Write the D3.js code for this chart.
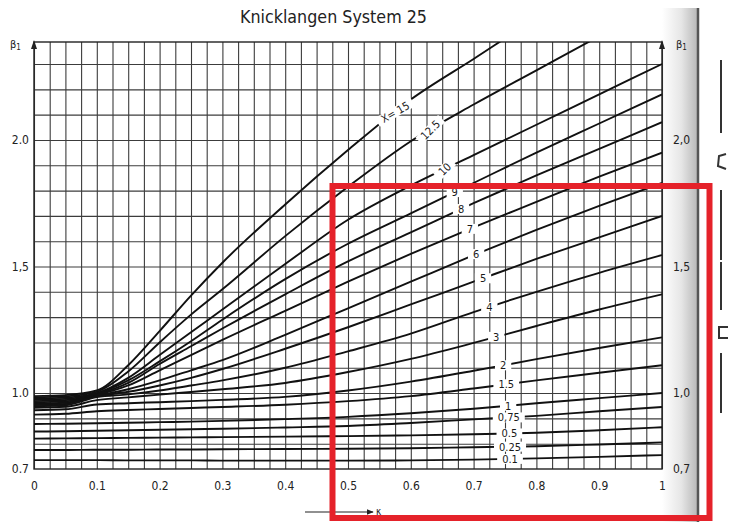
<!DOCTYPE html>
<html>
<head>
<meta charset="utf-8">
<script src="https://cdn.jsdelivr.net/npm/d3@7"></script>
<style>
body{margin:0;background:#fff;}
svg{display:block;font-family:"DejaVu Sans Condensed","DejaVu Sans",sans-serif;font-stretch:condensed;}
</style>
</head>
<body>
<svg id="chart" width="731" height="522"></svg>
<script>
const kappa=[0,0.05,0.1,0.15,0.2,0.25,0.3,0.4,0.5,0.6,0.7,0.8,0.9,1.0];

const curveNames=["15","12.5","10","9","8","7","6","5","4","3","2","1.5","1","0.75","0.5","0.25","0.1"];
const curveLabels=["X= 15","12.5","10","9","8","7","6","5","4","3","2","1.5","1","0,75","0.5","0.25","0.1"];
const labelAt=[0.575,0.631,0.654,0.67,0.68,0.694,0.704,0.715,0.725,0.736,0.747,0.752,0.755,0.756,0.757,0.758,0.758];
const labelTilt=[-30,-45,-45,0,0,0,0,0,0,0,0,0,0,0,0,0,0];

const beta15 =[0.988,0.992,1.010,1.110,1.245,1.385,1.515,1.745,1.960,2.160,2.320,2.480,2.620,2.760];
const beta125=[0.983,0.987,1.005,1.085,1.200,1.310,1.410,1.620,1.815,1.995,2.140,2.275,2.410,2.540];
const beta10 =[0.978,0.982,1.000,1.060,1.150,1.240,1.330,1.510,1.685,1.820,1.940,2.060,2.180,2.300];
const beta9  =[0.973,0.977,0.998,1.050,1.125,1.205,1.290,1.450,1.590,1.710,1.830,1.950,2.065,2.180];
const beta8  =[0.968,0.972,0.995,1.040,1.115,1.185,1.255,1.390,1.520,1.635,1.750,1.860,1.965,2.070];
const beta7  =[0.963,0.967,0.992,1.030,1.090,1.150,1.210,1.325,1.440,1.550,1.655,1.755,1.855,1.950];
const beta6  =[0.958,0.962,0.990,1.015,1.050,1.090,1.130,1.230,1.335,1.440,1.545,1.645,1.740,1.830];
const beta5  =[0.953,0.957,0.988,1.005,1.030,1.060,1.095,1.175,1.260,1.350,1.440,1.530,1.615,1.700];
const beta4  =[0.948,0.952,0.984,0.995,1.010,1.030,1.050,1.100,1.165,1.235,1.320,1.400,1.475,1.545];
const beta3  =[0.942,0.946,0.972,0.983,0.994,1.004,1.015,1.040,1.083,1.135,1.198,1.265,1.330,1.390];
const beta2  =[0.932,0.936,0.955,0.960,0.964,0.968,0.973,0.985,1.010,1.045,1.088,1.134,1.178,1.220];
const beta15b=[0.915,0.918,0.928,0.933,0.937,0.941,0.945,0.954,0.968,0.988,1.018,1.050,1.080,1.110];
const beta1  =[0.878,0.879,0.881,0.883,0.885,0.887,0.890,0.897,0.906,0.920,0.938,0.960,0.980,1.000];
const beta075=[0.848,0.849,0.851,0.853,0.855,0.857,0.859,0.864,0.870,0.882,0.896,0.910,0.928,0.945];
const beta05 =[0.820,0.821,0.822,0.823,0.824,0.825,0.826,0.828,0.830,0.833,0.837,0.843,0.853,0.865];
const beta025=[0.775,0.775,0.776,0.776,0.777,0.777,0.778,0.779,0.780,0.782,0.786,0.790,0.797,0.805];
const beta01 =[0.735,0.735,0.735,0.734,0.734,0.734,0.733,0.733,0.733,0.734,0.737,0.742,0.748,0.755];

const allBeta=[beta15,beta125,beta10,beta9,beta8,beta7,beta6,beta5,beta4,beta3,beta2,beta15b,beta1,beta075,beta05,beta025,beta01];

const xTicks=[0,0.1,0.2,0.3,0.4,0.5,0.6,0.7,0.8,0.9,1];
const xTickLabels=["0","0.1","0.2","0.3","0.4","0.5","0.6","0.7","0.8","0.9","1"];
const yTicks=[0.7,1.0,1.5,2.0];
const yTickLabelsLeft=["0.7","1.0","1,5","2.0"];
const yTickLabelsRight=["0,7","1,0","1,5","2,0"];

const series=curveNames.map((n,i)=>({name:n,label:curveLabels[i],at:labelAt[i],tilt:labelTilt[i],values:allBeta[i]}));

const svg=d3.select("#chart");
const x=d3.scaleLinear().domain([0,1]).range([34,662]);
const y=d3.scaleLinear().domain([0.7,2.387]).range([469,42]);
const W=x(1)-x(0), H=y(0.7)-y(2.387);
const FONT='"DejaVu Sans Condensed","DejaVu Sans",sans-serif';

const defs=svg.append("defs");
defs.append("clipPath").attr("id","plot").append("rect")
  .attr("x",x(0)).attr("y",y(2.387)).attr("width",W).attr("height",H);
const grad=defs.append("linearGradient").attr("id","edge").attr("x1","0").attr("x2","1");
grad.append("stop").attr("offset","0").attr("stop-color","#ffffff");
grad.append("stop").attr("offset","0.55").attr("stop-color","#e6e6e6");
grad.append("stop").attr("offset","1").attr("stop-color","#b9b9b9");
const mk=defs.append("marker").attr("id","arr").attr("viewBox","0 0 10 10")
  .attr("refX",9).attr("refY",5).attr("markerWidth",6).attr("markerHeight",6).attr("orient","auto");
mk.append("path").attr("d","M0,1L10,5L0,9Z").attr("fill","#222");

// scanned page edge on the right
svg.append("rect").attr("x",662).attr("y",8).attr("width",35).attr("height",514).attr("fill","url(#edge)");
svg.append("line").attr("x1",698).attr("x2",698).attr("y1",8).attr("y2",522)
  .attr("stroke","#555").attr("stroke-width",2.5);
const marks=svg.append("g").attr("stroke","#333").attr("stroke-width",2).attr("fill","none");
marks.append("line").attr("x1",721).attr("x2",721).attr("y1",60).attr("y2",133);
marks.append("path").attr("d","M726,154 L719,156 L718,166 L726,169");
marks.append("line").attr("x1",721).attr("x2",721).attr("y1",190).attr("y2",260);
marks.append("line").attr("x1",721).attr("x2",721).attr("y1",262).attr("y2",310);
marks.append("path").attr("d","M728,327 L719,327 L719,338 L728,338");
marks.append("line").attr("x1",721).attr("x2",721).attr("y1",353).attr("y2",413);

// grid
const gx=svg.append("g").attr("transform",`translate(0,${y(0.7)})`)
  .call(d3.axisBottom(x).tickValues(d3.range(0,1.0001,0.025)).tickSize(-H).tickFormat(""));
const gy=svg.append("g").attr("transform",`translate(${x(0)},0)`)
  .call(d3.axisLeft(y).tickValues(d3.range(0.8,2.35,0.1)).tickSize(-W).tickFormat(""));
[gx,gy].forEach(g=>{
  g.select(".domain").remove();
  g.selectAll("line").attr("stroke","#3c3c3c").attr("stroke-width",1.1);
});

// frame
svg.append("rect").attr("x",x(0)).attr("y",y(2.387)).attr("width",W).attr("height",H)
  .attr("fill","none").attr("stroke","#222").attr("stroke-width",1.4);
svg.append("path").attr("d",`M${x(0)-3},${y(2.387)+7}L${x(0)},${y(2.387)-2}L${x(0)+3},${y(2.387)+7}Z`).attr("fill","#222");
svg.append("path").attr("d",`M${x(1)-3},${y(2.387)+7}L${x(1)},${y(2.387)-2}L${x(1)+3},${y(2.387)+7}Z`).attr("fill","#222");

// curves
const line=d3.line().x((d,i)=>x(kappa[i])).y(d=>y(d)).curve(d3.curveMonotoneX);
svg.append("g").attr("clip-path","url(#plot)")
  .selectAll("path").data(series).enter().append("path")
  .attr("d",d=>line(d.values))
  .attr("fill","none").attr("stroke","#111").attr("stroke-width",1.9);

// curve labels sitting in a gap of each curve
const lab=svg.append("g").selectAll("g").data(series).enter().append("g")
  .attr("transform",d=>{
    const b=d3.scaleLinear().domain(kappa).range(d.values)(d.at);
    return `translate(${x(d.at)},${y(b)}) rotate(${d.tilt})`;
  });
lab.append("rect").attr("fill","#fff");
lab.append("text").text(d=>d.label)
  .attr("text-anchor","middle").attr("dy","0.36em")
  .attr("font-size",11).attr("fill","#1a1a1a");
lab.each(function(){
  const t=d3.select(this).select("text").node().getBBox();
  d3.select(this).select("rect")
    .attr("x",t.x-5).attr("y",-5).attr("width",t.width+10).attr("height",10);
});

// axis labels
const ax=svg.append("g").attr("transform",`translate(0,${y(0.7)})`)
  .call(d3.axisBottom(x).tickValues(xTicks).tickSize(0).tickPadding(12)
  .tickFormat((d,i)=>xTickLabels[i]));
const al=svg.append("g").attr("transform",`translate(${x(0)},0)`)
  .call(d3.axisLeft(y).tickValues(yTicks).tickSize(0).tickPadding(5)
  .tickFormat((d,i)=>yTickLabelsLeft[i]));
const ar=svg.append("g").attr("transform",`translate(${x(1)},0)`)
  .call(d3.axisRight(y).tickValues(yTicks).tickSize(0).tickPadding(11)
  .tickFormat((d,i)=>yTickLabelsRight[i]));
[ax,al,ar].forEach(g=>{
  g.select(".domain").remove();
  g.selectAll("text").attr("font-size",12).attr("fill","#222")
    .style("font-family",FONT).style("font-stretch","condensed");
});

// beta_1 axis titles
[[10,48],[676,48]].forEach(p=>{
  const t=svg.append("text").attr("x",p[0]).attr("y",p[1]).attr("font-size",11).attr("fill","#222");
  t.append("tspan").text("β");
  t.append("tspan").attr("font-size",8).attr("dy",2).text("1");
});

// kappa arrow
svg.append("line").attr("x1",305).attr("x2",373).attr("y1",512).attr("y2",512)
  .attr("stroke","#222").attr("stroke-width",1.2).attr("marker-end","url(#arr)");
svg.append("text").attr("x",376).attr("y",515).attr("font-size",10).attr("fill","#222").text("κ");

// title
svg.append("text").attr("x",240).attr("y",23).attr("font-size",17).attr("fill","#222")
  .attr("textLength",187).attr("lengthAdjust","spacingAndGlyphs")
  .text("Knicklangen System 25");

// red highlight box
svg.append("rect").attr("x",332.5).attr("y",186).attr("width",377).attr("height",332)
  .attr("fill","none").attr("stroke","#e5222a").attr("stroke-width",6);
</script>
</body>
</html>
